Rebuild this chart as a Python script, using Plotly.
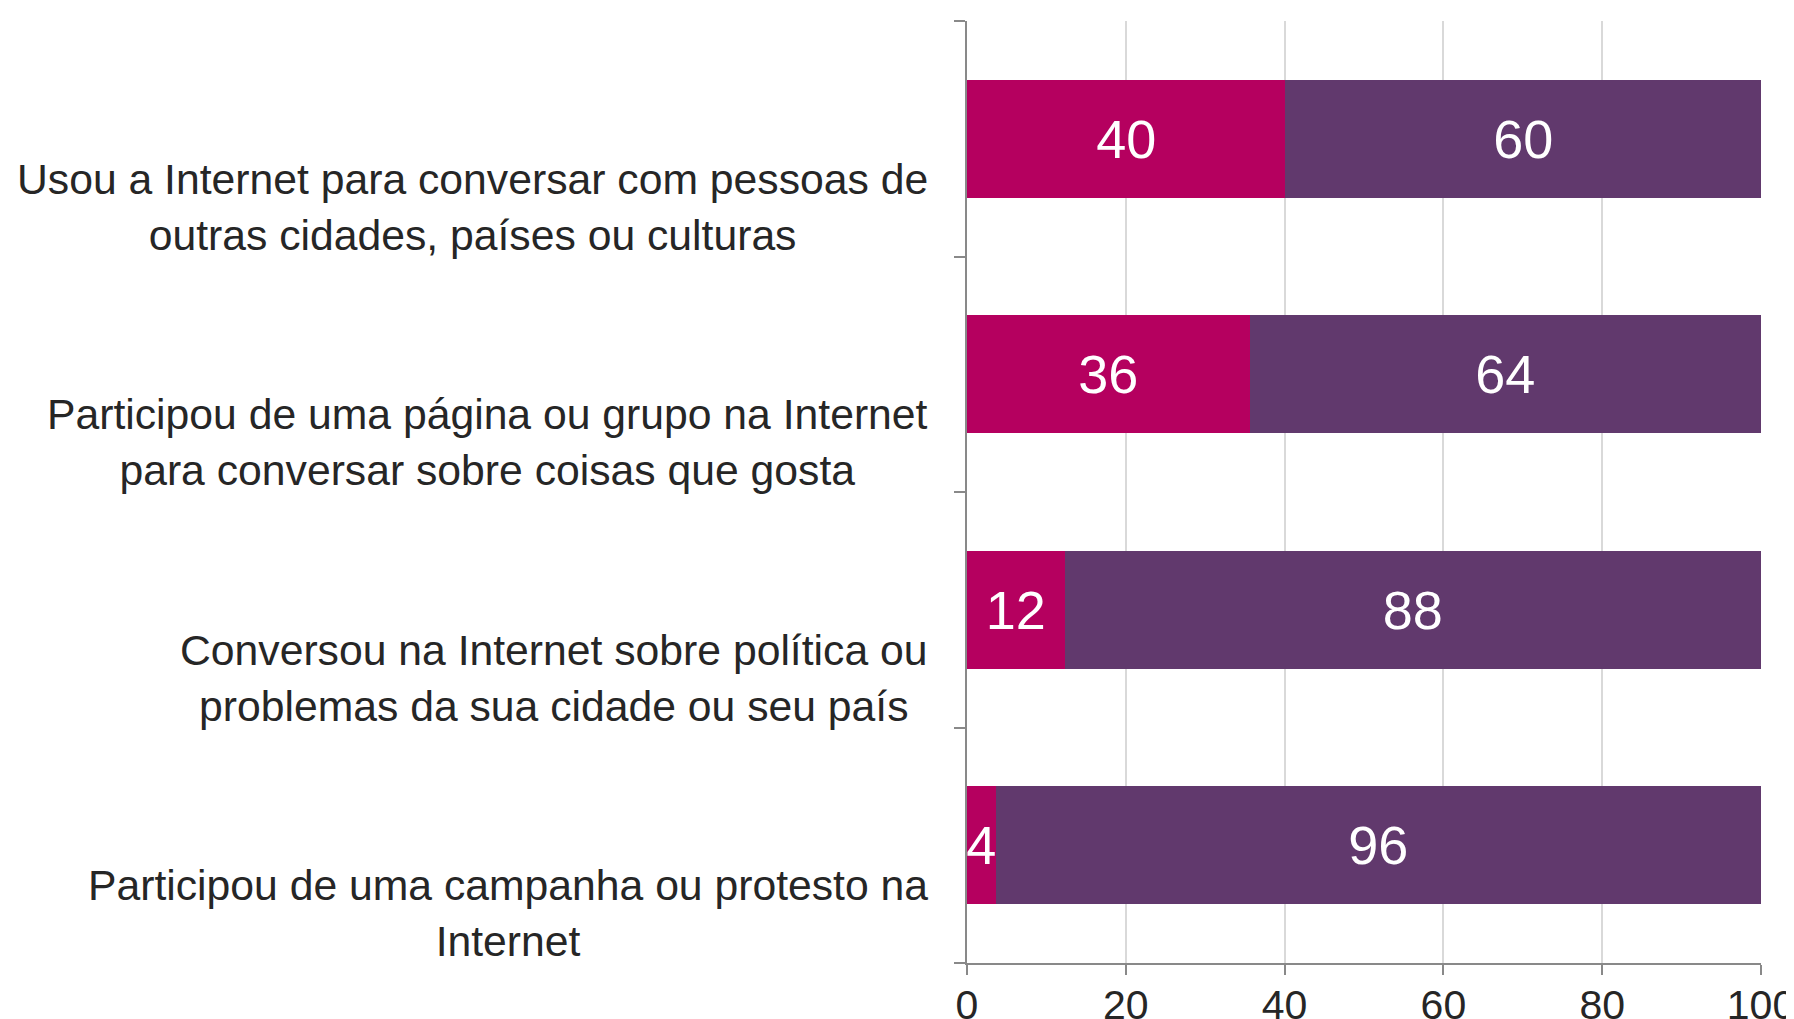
import plotly.graph_objects as go

categories = [
    "Usou a Internet para conversar com pessoas de<br>outras cidades, países ou culturas",
    "Participou de uma página ou grupo na Internet<br>para conversar sobre coisas que gosta",
    "Conversou na Internet sobre política ou<br>problemas da sua cidade ou seu país",
    "Participou de uma campanha ou protesto na<br>Internet",
]
sim_values = [40.1, 35.6, 12.3, 3.6]
nao_values = [59.9, 64.4, 87.7, 96.4]
x_ticks = [0, 20, 40, 60, 80, 100]

COLOR_SIM = "#B5005F"
COLOR_NAO = "#61396D"
FONT = "Liberation Sans, Arial, sans-serif"
ids = list(range(len(categories)))

fig = go.Figure()
for vals, col in [(sim_values, COLOR_SIM), (nao_values, COLOR_NAO)]:
    fig.add_trace(go.Bar(
        y=ids, x=vals, orientation="h", width=0.5,
        marker=dict(color=col, line=dict(width=0)),
        text=[f"{v:.0f}" for v in vals],
        textposition="inside", insidetextanchor="middle",
        constraintext="none",
        textfont=dict(color="white", size=54, family=FONT),
        cliponaxis=False, showlegend=False,
    ))

for i, cat in enumerate(categories):
    fig.add_annotation(
        xref="paper", yref="y", x=0, y=i, xanchor="right", yanchor="middle",
        xshift=-37, yshift=-68, text=cat, align="center", showarrow=False,
        font=dict(size=42.7, color="#262626", family=FONT),
    )

fig.update_layout(
    width=1786, height=1011,
    margin=dict(l=959, r=33, t=13, b=56, autoexpand=False),
    barmode="stack",
    plot_bgcolor="white", paper_bgcolor="white",
    font=dict(family=FONT, color="#262626"),
)
fig.update_xaxes(
    range=[0, 100], tickvals=x_ticks, showgrid=True, gridcolor="#D9D9D9", gridwidth=1.5,
    showline=True, linecolor="#898989", linewidth=1.5,
    ticks="outside", ticklen=10, tickcolor="#898989", tickwidth=1.5,
    tickfont=dict(size=41, color="#262626", family=FONT),
    ticklabelstandoff=-5, zeroline=False, automargin=False,
    ticklabeloverflow="allow",
)
fig.update_yaxes(
    type="category", range=[3.5, -0.5], tickvals=ids, ticktext=[""] * len(ids),
    tickson="boundaries", ticks="outside", ticklen=11, tickcolor="#898989", tickwidth=1.5,
    showline=True, linecolor="#898989", linewidth=1.5, showgrid=False, zeroline=False,
    automargin=False,
)

fig.write_html("out.html")
